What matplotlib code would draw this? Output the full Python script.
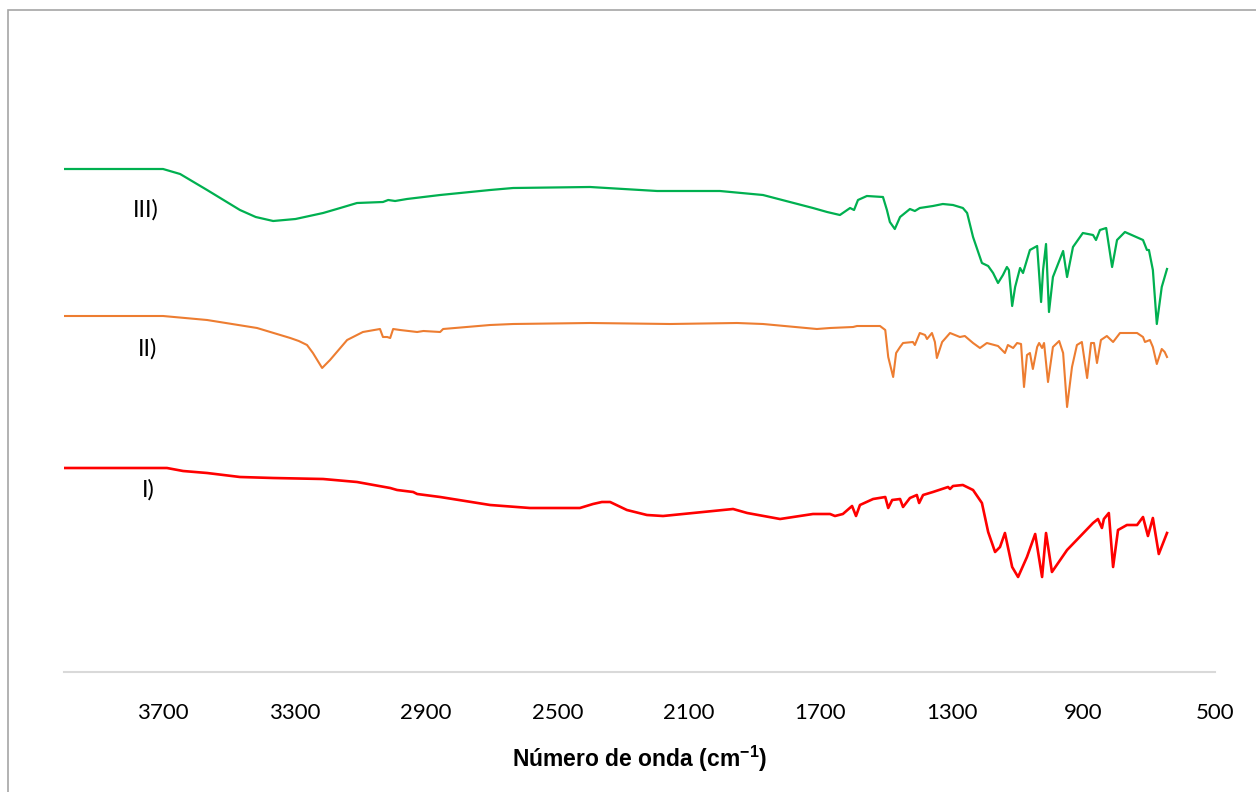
import matplotlib.pyplot as plt
from matplotlib.patches import Rectangle

plt.rcParams['mathtext.default'] = 'regular'

# espectros (numero de onda, transmitancia relativa)
wn_iii = [4000, 3700, 3648, 3566, 3466, 3418, 3365, 3297, 3213, 3161, 3110, 3031, 3015, 2994,
          2958, 2857, 2705, 2635, 2401, 2197, 2006, 1875, 1723, 1680, 1641, 1610, 1598, 1586,
          1559, 1510, 1498, 1489, 1474, 1458, 1428, 1413, 1398, 1358, 1328, 1297, 1267, 1254,
          1236, 1209, 1190, 1175, 1160, 1145, 1133, 1127, 1117, 1108, 1093, 1084, 1063, 1041,
          1029, 1023, 1014, 1005, 993, 962, 950, 932, 902, 871, 862, 850, 831, 813, 798, 774,
          719, 707, 701, 689, 677, 662, 646]
t_iii = [503, 503, 498, 482, 462, 455, 451, 453, 459, 464, 469, 470, 472, 471,
         473, 477, 482, 484, 485, 481, 481, 477, 464, 460, 457, 464, 462, 472,
         476, 475, 462, 450, 443, 455, 463, 461, 464, 466, 468, 467, 464, 459,
         435, 409, 406, 399, 389, 397, 405, 402, 366, 385, 404, 399, 422, 426,
         370, 402, 428, 360, 395, 421, 395, 425, 439, 437, 432, 442, 444, 405, 432, 440,
         432, 422, 422, 402, 348, 385, 403]

wn_ii = [4000, 3700, 3566, 3414, 3313, 3287, 3262, 3244, 3216, 3192, 3140, 3092, 3040, 3031,
         3018, 3009, 3000, 2979, 2927, 2908, 2857, 2848, 2705, 2635, 2401, 2158, 1954, 1875,
         1711, 1671, 1601, 1589, 1519, 1503, 1494, 1479, 1470, 1458, 1449, 1419, 1413, 1398,
         1382, 1376, 1361, 1352, 1346, 1330, 1306, 1276, 1261, 1236, 1215, 1194, 1160, 1139,
         1130, 1114, 1102, 1090, 1081, 1072, 1063, 1054, 1041, 1035, 1026, 1020, 1008, 993,
         974, 962, 950, 935, 920, 905, 889, 877, 868, 859, 847, 829, 810, 789, 737, 719, 713,
         698, 689, 677, 662, 653, 646]
t_ii = [356, 356, 352, 344, 334, 331, 327, 319, 304, 312, 332, 340, 343, 335,
        335, 334, 343, 342, 340, 341, 340, 343, 347, 348, 349, 348, 349, 348,
        343, 344, 345, 346, 346, 342, 315, 295, 319, 325, 329, 330, 327, 339,
        337, 333, 339, 330, 314, 330, 339, 335, 336, 329, 324, 329, 326, 319,
        327, 324, 329, 328, 285, 317, 319, 303, 325, 329, 324, 329, 290, 325,
        331, 319, 265, 305, 327, 330, 294, 329, 329, 309, 332, 336, 330, 339, 339, 335, 330,
        332, 325, 308, 323, 320, 315]

wn_i = [4000, 3688, 3639, 3566, 3466, 3365, 3213, 3110, 3009, 2988, 2939, 2927, 2857, 2705,
        2584, 2432, 2392, 2365, 2340, 2289, 2228, 2179, 2027, 1966, 1923, 1823, 1723, 1671,
        1656, 1632, 1604, 1592, 1580, 1540, 1503, 1494, 1482, 1458, 1449, 1428, 1407, 1400,
        1388, 1358, 1312, 1306, 1297, 1267, 1236, 1209, 1190, 1169, 1154, 1139, 1130, 1117,
        1099, 1072, 1047, 1026, 1014, 996, 950, 871, 856, 844, 838, 823, 810, 795, 768, 737,
        719, 704, 689, 671, 646]
t_i = [204, 204, 201, 199, 195, 194, 193, 190, 184, 182, 180, 178, 175, 167,
       164, 164, 168, 170, 170, 162, 157, 156, 161, 163, 159, 153, 158, 158,
       156, 158, 166, 156, 167, 173, 175, 164, 172, 173, 165, 174, 177, 169,
       177, 180, 185, 183, 186, 187, 182, 169, 140, 120, 125, 139, 125, 105,
       95, 115, 138, 95, 139, 100, 122, 149, 153, 144, 153, 159, 105, 142, 147, 147,
       155, 136, 154, 118, 139]

ticks = [3700, 3300, 2900, 2500, 2100, 1700, 1300, 900, 500]

fig = plt.figure(figsize=(12.56, 7.92), dpi=100)
ax = fig.add_axes([64.4 / 1256, 120 / 792, (1215 - 64.4) / 1256, 652 / 792])

ax.plot(wn_iii, t_iii, color='#00b050', lw=1.6, solid_joinstyle='round')
ax.plot(wn_ii, t_ii, color='#ed7d31', lw=1.5, solid_joinstyle='round')
ax.plot(wn_i, t_i, color='#ff0000', lw=1.9, solid_joinstyle='round')

ax.text(3752, 462, 'III)', fontsize=17, family='Lato', ha='center', va='center')
ax.text(3746, 323, 'II)', fontsize=17, family='Lato', ha='center', va='center')
ax.text(3746, 182, 'I)', fontsize=17, family='Lato', ha='center', va='center')

ax.set_xlim(4000, 500)
ax.set_ylim(0, 652)
ax.set_xticks(ticks)
ax.set_xticklabels([str(t) for t in ticks], family='Lato', fontsize=16)
ax.tick_params(axis='x', length=0, pad=22)
ax.set_yticks([])
for s in ['top', 'right', 'left']:
    ax.spines[s].set_visible(False)
ax.spines['bottom'].set_color('#d9d9d9')
ax.spines['bottom'].set_linewidth(1.5)
ax.set_xlabel('Número de onda (cm$^{-1}$)', fontsize=16.5, fontweight='bold',
              family='Liberation Sans', labelpad=15)

fig.patches.append(Rectangle((8 / 1256, -0.02), 1.1, 782 / 792 + 0.02, transform=fig.transFigure,
                             fill=False, edgecolor='#a6a6a6', lw=1.2))

fig.savefig('out.png', dpi=100)
